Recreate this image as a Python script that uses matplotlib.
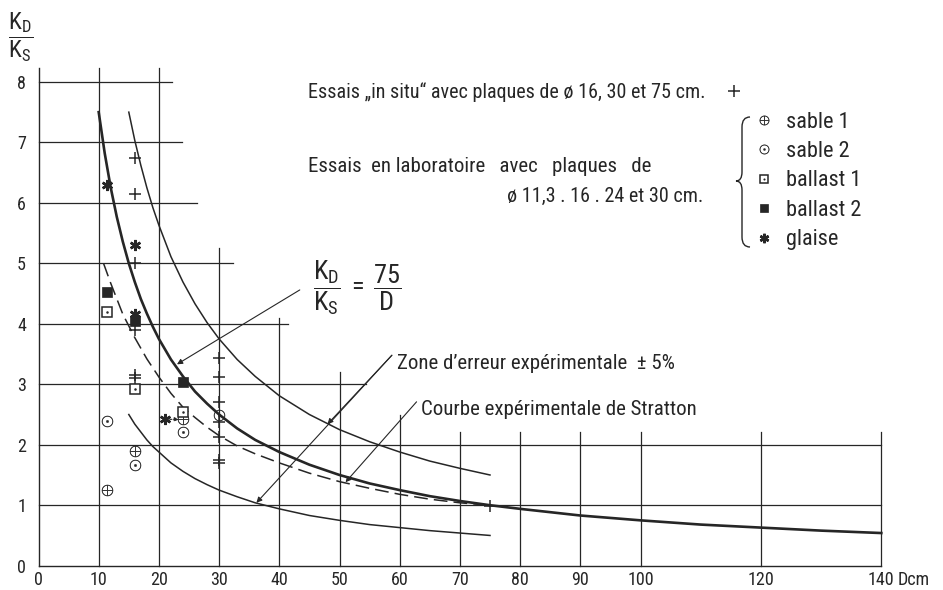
import matplotlib
matplotlib.use("Agg")
import matplotlib.pyplot as plt
from matplotlib.legend_handler import HandlerTuple
from matplotlib.patches import PathPatch
from matplotlib.path import Path

# curves (D in cm, K_D/K_S)
main_d = [10, 11, 12, 13, 14, 15, 16, 17, 18, 19, 20, 22, 24, 26, 28, 30, 33, 36, 40,
          45, 50, 55, 60, 65, 70, 75, 80, 90, 100, 110, 120, 130, 140]
main_k = [7.5, 6.82, 6.25, 5.77, 5.36, 5.0, 4.69, 4.41, 4.17, 3.95, 3.75, 3.41, 3.13, 2.88,
          2.68, 2.5, 2.27, 2.08, 1.88, 1.67, 1.5, 1.36, 1.25, 1.15, 1.07, 1.0, 0.94, 0.83,
          0.75, 0.68, 0.63, 0.58, 0.54]

zone_d = [15, 16, 17, 18, 19, 20, 22, 24, 26, 28, 30, 33, 36, 40, 45, 50, 55, 60, 65, 70, 75]
zone_hi = [7.5, 7.03, 6.62, 6.25, 5.92, 5.63, 5.11, 4.69, 4.33, 4.02, 3.75, 3.41, 3.13, 2.81,
           2.5, 2.25, 2.05, 1.88, 1.73, 1.61, 1.5]
zone_lo = [2.5, 2.34, 2.21, 2.08, 1.97, 1.88, 1.70, 1.56, 1.44, 1.34, 1.25, 1.14, 1.04, 0.94,
           0.83, 0.75, 0.68, 0.63, 0.58, 0.54, 0.5]

stratton_d = [10.8, 12, 14, 16, 18, 20, 22, 24, 26, 28, 30, 33, 36, 40, 45, 50, 55, 60, 65, 70, 75]
stratton_k = [5.0, 4.67, 4.16, 3.77, 3.42, 3.12, 2.85, 2.62, 2.45, 2.29, 2.15, 1.98, 1.85, 1.70,
              1.53, 1.39, 1.28, 1.18, 1.10, 1.04, 1.0]

# measured points
insitu_d = [16, 16, 16, 16, 16, 16, 30, 30, 30, 30, 30, 30, 30, 75]
insitu_k = [6.74, 6.14, 5.01, 3.90, 3.16, 3.10, 3.43, 3.12, 2.70, 2.38, 2.12, 1.75, 1.69, 0.98]
sable1_d = [11.3, 16, 24]
sable1_k = [1.25, 1.90, 2.42]
sable2_d = [11.3, 16, 24, 30]
sable2_k = [2.40, 1.66, 2.21, 2.50]
ballast1_d = [11.3, 16, 24]
ballast1_k = [4.19, 2.92, 2.54]
ballast2_d = [11.3, 16, 24]
ballast2_k = [4.53, 4.05, 3.04]
glaise_d = [11.3, 16, 16, 21]
glaise_k = [6.29, 5.30, 4.17, 2.42]

x_ticks = [0, 10, 20, 30, 40, 50, 60, 70, 80, 90, 100, 120, 140]
y_ticks = [0, 1, 2, 3, 4, 5, 6, 7, 8]

# staircase grid: how far each line reaches
vgrid_x = [10, 20, 30, 40, 50, 60, 70, 80, 90, 100, 120, 140]
vgrid_top = [8.23, 8.23, 5.25, 4.09, 3.2, 2.49, 2.21, 2.21, 2.21, 2.21, 2.21, 2.21]
hgrid_y = [1, 2, 3, 4, 5, 6, 7, 8]
hgrid_end = [140, 140, 54.4, 41.4, 32.3, 26.3, 23.8, 22.2]

ink = "#262626"
plt.rcParams["font.family"] = ["Roboto Condensed", "DejaVu Sans"]
plt.rcParams["mathtext.fontset"] = "custom"
plt.rcParams["mathtext.rm"] = "Roboto Condensed"
plt.rcParams["mathtext.it"] = "Roboto Condensed"
plt.rcParams["text.color"] = ink

fig = plt.figure(figsize=(9.43, 5.9), dpi=100)
ax = fig.add_axes([0.04083, 0.04119, 0.89374, 0.84356])
ax.set_xlim(0, 140)
ax.set_ylim(0, 8.23)

for s in ["top", "right"]:
    ax.spines[s].set_visible(False)
for s in ["left", "bottom"]:
    ax.spines[s].set_color(ink)
    ax.spines[s].set_linewidth(1.0)

for x, top in zip(vgrid_x, vgrid_top):
    ax.plot([x, x], [0, top], color=ink, lw=0.9, clip_on=False)
for y, end in zip(hgrid_y, hgrid_end):
    ax.plot([0, end], [y, y], color=ink, lw=0.9, clip_on=False)

ax.set_xticks(x_ticks)
ax.set_yticks(y_ticks)
ax.tick_params(length=0, labelsize=13, colors=ink)
ax.tick_params(axis="y", pad=9)
ax.tick_params(axis="x", pad=3.5)
ax.annotate("Dcm", xy=(140, 0), xytext=(12, -10), textcoords="offset points",
            ha="left", va="center", fontsize=13)

# curves
ax.plot(main_d, main_k, color=ink, lw=1.9, clip_on=False)
ax.plot(zone_d, zone_hi, color=ink, lw=1.1)
ax.plot(zone_d, zone_lo, color=ink, lw=1.1)
ax.plot(stratton_d, stratton_k, color=ink, lw=1.1, linestyle=(0, (9, 4)))

# points
mk = dict(linestyle="none", color=ink, clip_on=False)
h_plus, = ax.plot(insitu_d, insitu_k, marker="+", ms=8, mew=1.1, **mk)
h_s1, = ax.plot(sable1_d, sable1_k, marker=r"$\oplus$", ms=8, mew=0.3, **mk)
h_s2, = ax.plot(sable2_d, sable2_k, marker=r"$\odot$", ms=8, mew=0.3, **mk)
h_b1a, = ax.plot(ballast1_d, ballast1_k, marker="s", ms=7, mew=1.1, mfc="white", **mk)
h_b1b, = ax.plot(ballast1_d, ballast1_k, marker="o", ms=1.8, mew=0, **mk)
h_b2, = ax.plot(ballast2_d, ballast2_k, marker="s", ms=7.5, mew=0.5, **mk)
h_gl, = ax.plot(glaise_d, glaise_k, marker=(6, 2, 0), ms=8, mew=1.8, **mk)

ax.annotate("", xy=(23.3, 2.42), xytext=(21.8, 2.42),
            arrowprops=dict(arrowstyle="-|>", color=ink, lw=0.8, mutation_scale=6,
                            linestyle=(0, (2, 1.5)), shrinkA=0, shrinkB=0))

# legends
leg1 = ax.legend([h_plus], ["Essais \u201ein situ\u201c avec plaques de \u00f8 16, 30 et 75 cm."],
                 loc="center left", bbox_to_anchor=(44.8, 7.83), bbox_transform=ax.transData,
                 markerfirst=False, frameon=False, handlelength=1.0,
                 handletextpad=0.9, borderpad=0, borderaxespad=0,
                 prop=dict(size=14.5))
ax.add_artist(leg1)
ax.legend([h_s1, h_s2, (h_b1a, h_b1b), h_b2, h_gl],
          ["sable 1", "sable 2", "ballast 1", "ballast 2", "glaise"],
          handler_map={tuple: HandlerTuple(ndivide=1)},
          loc="upper left", bbox_to_anchor=(118.6, 7.51), bbox_transform=ax.transData,
          frameon=False, handlelength=1.0, handletextpad=0.5,
          labelspacing=0.38, borderpad=0, borderaxespad=0, markerscale=0.85,
          prop=dict(size=16))

ax.text(44.8, 6.6, "Essais  en laboratoire   avec   plaques   de", fontsize=15,
        ha="left", va="center")
ax.text(77.8, 6.1, "\u00f8 11,3 . 16 . 24 et 30 cm.", fontsize=14.5,
        ha="left", va="center")

# brace in figure pixels
W, H = 943.0, 590.0
def fp(px, py):
    return (px / W, 1 - py / H)

brace = [fp(750, 117), fp(742, 117), fp(742, 127), fp(742, 172), fp(742, 181), fp(736, 181),
         fp(742, 181), fp(742, 190), fp(742, 237), fp(742, 247), fp(750, 247)]
codes = [Path.MOVETO, Path.CURVE3, Path.CURVE3, Path.LINETO, Path.CURVE3, Path.CURVE3,
         Path.CURVE3, Path.CURVE3, Path.LINETO, Path.CURVE3, Path.CURVE3]
fig.add_artist(PathPatch(Path(brace, codes), fill=False, edgecolor=ink, lw=1.0,
                         transform=fig.transFigure))

# annotations
arrow = dict(arrowstyle="-|>", color=ink, lw=0.8, mutation_scale=8, shrinkA=0, shrinkB=0)
ax.text(52.9, 4.59, r"$\dfrac{\mathrm{K}_{\mathrm{D}}}{\mathrm{K}_{\mathrm{S}}}\;=\;\dfrac{\mathrm{75}}{\mathrm{D}}$",
        fontsize=19, ha="center", va="center")
ax.annotate("", xy=(23.0, 3.33), xytext=(43.4, 4.56), arrowprops=arrow)

ax.text(59.6, 3.35, "Zone d\u2019erreur expérimentale  \u00b1 5%", fontsize=15,
        ha="left", va="center")
ax.annotate("", xy=(48.0, 2.34), xytext=(58.7, 3.48), arrowprops=arrow)
ax.annotate("", xy=(36.2, 1.04), xytext=(58.7, 3.48), arrowprops=arrow)

ax.text(63.5, 2.59, "Courbe expérimentale de Stratton", fontsize=15,
        ha="left", va="center")
ax.annotate("", xy=(51.0, 1.38), xytext=(62.8, 2.71), arrowprops=arrow)

fig.text(21 / W, 1 - 37 / H, r"$\dfrac{\mathrm{K}_{\mathrm{D}}}{\mathrm{K}_{\mathrm{S}}}$",
         fontsize=17, ha="center", va="center")

fig.savefig("out.png", dpi=100, facecolor="white")
